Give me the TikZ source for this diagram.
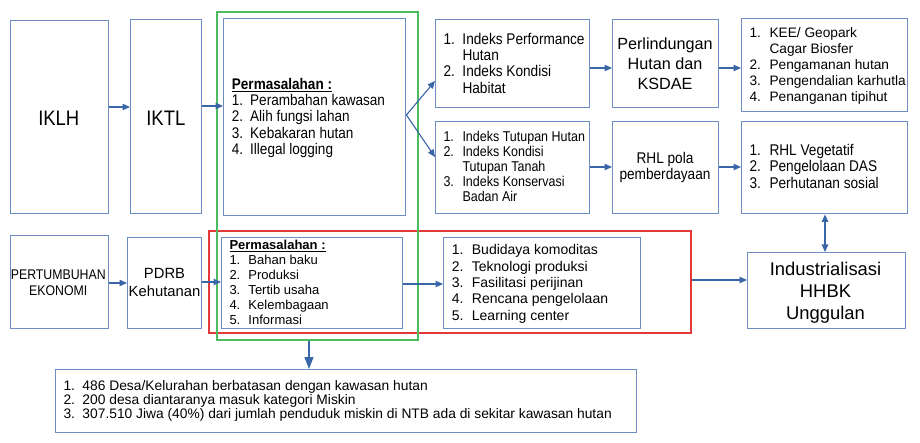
\documentclass[tikz,border=0pt]{standalone}
\usepackage{fontspec}
\setmainfont{Liberation Sans}
\newfontfamily\nf{Liberation Sans}[FakeStretch=0.88]
\usetikzlibrary{arrows.meta}
\definecolor{boxblue}{HTML}{6F8FC4}
\definecolor{arrblue}{HTML}{3A66A8}
\definecolor{grn}{HTML}{4DBB5F}
\definecolor{rd}{HTML}{E23A3A}
\newdimen\indw
\newcommand\itm[2]{\hbox{\makebox[\indw][l]{#1}#2}}
\newcommand\cln[1]{\hbox to 0pt{\hss#1\hss}}
\tikzset{
  box/.style={draw=boxblue, line width=1.4pt, inner sep=0pt, anchor=north west},
  frame/.style={line width=1.8pt, inner sep=0pt, anchor=north west},
  txt/.style={inner sep=0pt, anchor=base west, text=black},
  ctxt/.style={inner sep=0pt, anchor=base, text=black},
  arr/.style={draw=arrblue, line width=1.1pt, -{Triangle[length=7.5pt,width=6.5pt]}},
}
\begin{document}
\begin{tikzpicture}[x=1pt,y=-1pt]
\useasboundingbox[fill=white] (0,0) rectangle (920,443);
% boxes
\node[box, minimum width=98pt, minimum height=193pt] (iklh) at (10,20) {};
\node[box, minimum width=71pt, minimum height=194pt] (iktl) at (130,19) {};
\node[box, minimum width=182pt, minimum height=197pt] (p1) at (223,18) {};
\node[box, minimum width=154pt, minimum height=88pt] (ip) at (435,19) {};
\node[box, minimum width=106pt, minimum height=88pt] (pl) at (612,19) {};
\node[box, minimum width=166pt, minimum height=93pt] (kee) at (741,18) {};
\node[box, minimum width=154pt, minimum height=92pt] (it) at (435,121) {};
\node[box, minimum width=106pt, minimum height=92pt] (rhl) at (612,121) {};
\node[box, minimum width=166pt, minimum height=92pt] (veg) at (741,121) {};
\node[box, minimum width=98pt, minimum height=93pt] (pe) at (10,235) {};
\node[box, minimum width=74pt, minimum height=91pt] (pd) at (127,237) {};
\node[box, minimum width=181pt, minimum height=91pt] (p2) at (221,237) {};
\node[box, minimum width=197pt, minimum height=91pt] (bud) at (443,237) {};
\node[box, minimum width=158pt, minimum height=76pt] (ind) at (747,252) {};
\node[box, minimum width=581pt, minimum height=63pt] (bot) at (55,369) {};
% frames
\node[frame, draw=rd, minimum width=482pt, minimum height=102pt] (redr) at (208,230) {};
\node[frame, draw=grn, minimum width=201pt, minimum height=328pt] (grnr) at (216,11) {};
% texts
\node[ctxt] (tiklh) at (58.8,126) {\nf\fontsize{21}{24}\selectfont IKLH};
\node[ctxt] (tiktl) at (165.8,126) {\nf\fontsize{21}{24}\selectfont IKTL};
\node[txt] (tp1) at (231.7,89.3) {\vtop{\nf\fontsize{15.4}{16.3}\selectfont\indw=18.3pt
  \hbox{\textbf{\underline{Permasalahan :}}}
  \itm{1.}{Perambahan kawasan}
  \itm{2.}{Alih fungsi lahan}
  \itm{3.}{Kebakaran hutan}
  \itm{4.}{Illegal logging}}};
\node[txt] (tip) at (443.3,44.3) {\vtop{\nf\fontsize{15.5}{16.3}\selectfont\indw=19pt
  \itm{1.}{Indeks Performance}
  \itm{}{Hutan}
  \itm{2.}{Indeks Kondisi}
  \itm{}{Habitat}}};
\node[ctxt] (tpl) at (665,50) {\vtop{\fontsize{16.2}{20}\selectfont
  \cln{Perlindungan}\cln{Hutan dan}\cln{KSDAE}}};
\node[txt] (tkee) at (749.3,37.7) {\vtop{\fontsize{13.7}{16}\selectfont\indw=20pt
  \itm{1.}{KEE/ Geopark}
  \itm{}{Cagar Biosfer}
  \itm{2.}{Pengamanan hutan}
  \itm{3.}{Pengendalian karhutla}
  \itm{4.}{Penanganan tipihut}}};
\node[txt] (tit) at (443.3,141.7) {\vtop{\nf\fontsize{14.2}{15}\selectfont\indw=19pt
  \itm{1.}{Indeks Tutupan Hutan}
  \itm{2.}{Indeks Kondisi}
  \itm{}{Tutupan Tanah}
  \itm{3.}{Indeks Konservasi}
  \itm{}{Badan Air}}};
\node[ctxt] (trhl) at (665,164) {\vtop{\nf\fontsize{15.5}{16}\selectfont
  \cln{RHL pola}\cln{pemberdayaan}}};
\node[txt] (tveg) at (749.3,155.7) {\vtop{\nf\fontsize{15.5}{16.3}\selectfont\indw=20pt
  \itm{1.}{RHL Vegetatif}
  \itm{2.}{Pengelolaan DAS}
  \itm{3.}{Perhutanan sosial}}};
\node[ctxt] (tpe) at (58.3,280) {\vtop{\nf\fontsize{14}{16}\selectfont
  \cln{PERTUMBUHAN}\cln{EKONOMI}}};
\node[ctxt] (tpd) at (164.5,279) {\vtop{\fontsize{14.8}{17.5}\selectfont
  \cln{PDRB}\cln{Kehutanan}}};
\node[txt] (tp2) at (229.3,249.5) {\vtop{\fontsize{13}{15}\selectfont\indw=19pt
  \hbox{\textbf{\underline{Permasalahan :}}}
  \itm{1.}{Bahan baku}
  \itm{2.}{Produksi}
  \itm{3.}{Tertib usaha}
  \itm{4.}{Kelembagaan}
  \itm{5.}{Informasi}}};
\node[txt] (tbud) at (451.7,255) {\vtop{\fontsize{14}{16.3}\selectfont\indw=20pt
  \itm{1.}{Budidaya komoditas}
  \itm{2.}{Teknologi produksi}
  \itm{3.}{Fasilitasi perijinan}
  \itm{4.}{Rencana pengelolaan}
  \itm{5.}{Learning center}}};
\node[ctxt] (tind) at (825.5,276) {\vtop{\fontsize{18.4}{21.7}\selectfont
  \cln{Industrialisasi}\cln{HHBK}\cln{Unggulan}}};
\node[txt] (tbot) at (63.3,390) {\vtop{\fontsize{13.8}{14.2}\selectfont\indw=19pt
  \itm{1.}{486 Desa/Kelurahan berbatasan dengan kawasan hutan}
  \itm{2.}{200 desa diantaranya masuk kategori Miskin}
  \itm{3.}{307.510 Jiwa (40\%) dari jumlah penduduk miskin di NTB ada di sekitar kawasan hutan}}};
% connectors
\draw[arr] (iklh.east |- 0,107) -- (iktl.west |- 0,107);
\draw[arr] (iktl.east |- 0,106) -- (p1.west |- 0,106);
\draw[arr] (p1.east |- 0,115) -- (ip.west |- 0,81);
\draw[arr] (p1.east |- 0,115) -- (it.west |- 0,157);
\draw[arr] (ip.east |- 0,68) -- (pl.west |- 0,68);
\draw[arr] (pl.east |- 0,68) -- (kee.west |- 0,68);
\draw[arr] (it.east |- 0,167) -- (rhl.west |- 0,167);
\draw[arr] (rhl.east |- 0,167) -- (veg.west |- 0,167);
\draw[arr] (pe.east |- 0,283) -- (pd.west |- 0,283);
\draw[arr] (pd.east |- 0,282) -- (p2.west |- 0,282);
\draw[arr] (p2.east |- 0,284) -- (bud.west |- 0,284);
\draw[arr] (redr.east |- 0,280) -- (ind.west |- 0,280);
\draw[arr, {Triangle[length=7.5pt,width=6.5pt]}-{Triangle[length=7.5pt,width=6.5pt]}] (veg.south -| 825,0) -- (ind.north -| 825,0);
\draw[arr, -{Triangle[length=12pt,width=9pt]}] (grnr.south -| 309,0) -- (bot.north -| 309,0);
\end{tikzpicture}
\end{document}
